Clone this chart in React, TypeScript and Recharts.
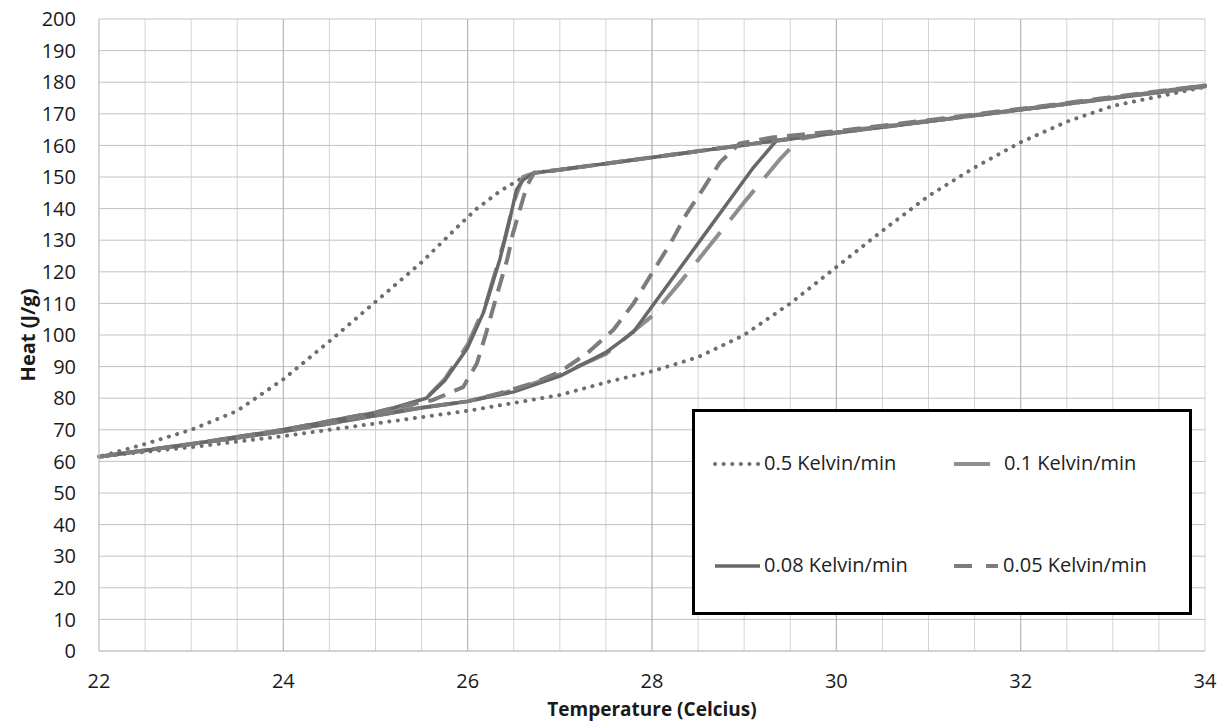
import React from "react";
import {
  LineChart,
  Line,
  XAxis,
  YAxis,
  CartesianGrid,
  Legend,
  ReferenceLine,
} from "recharts";

// temperatures (Celcius) and heat (J/g), each series runs the heating branch then back along the cooling branch
const tempsRate05 = [22, 23, 24, 25, 25.5, 26, 26.5, 27, 27.5, 28, 28.5, 29, 29.5, 30, 30.5, 31, 31.5, 32, 32.5, 33, 33.5, 34,
  33, 32, 31, 30, 29.4, 28, 27, 26.7, 26.55, 26.35, 26.1, 25.9, 25.5, 25, 24.5, 24, 23.5, 23, 22.5, 22];
const heatRate05 = [61.5, 64.5, 68, 72, 74, 76, 78.5, 81, 85, 88.5, 93, 100, 110, 121.5, 133, 144, 153, 161, 167.5, 172.5, 175.5, 178.5,
  175, 171.3, 167.6, 164, 161.7, 156.2, 152.3, 151.3, 149, 145.5, 140, 134.5, 123, 110.5, 98, 86, 76, 70, 65.5, 61.5];

const tempsRate01 = [22, 23, 24, 25, 25.5, 26, 26.5, 27, 27.5, 28, 28.3, 28.7, 29, 29.4, 29.6, 30, 31, 32, 33, 34,
  33, 32, 31, 30, 29.4, 28, 27, 26.75, 26.6, 26.5, 26.4, 26.2, 26, 25.75, 25.55, 25.3, 25, 24, 23, 22];
const heatRate01 = [61.5, 65.5, 69.5, 74.5, 77, 79, 82.5, 87.5, 94, 106, 116.5, 131, 142, 156, 162, 164.2, 167.8, 171.4, 175, 178.6,
  175, 171.3, 167.6, 164, 161.7, 156.2, 152.3, 151.5, 150, 142, 130, 110, 97, 86, 80, 76.5, 75.5, 70, 65.5, 61.5];

const tempsRate008 = [22, 23, 24, 25, 25.5, 26, 26.5, 27, 27.5, 27.8, 28, 28.5, 28.9, 29.1, 29.35, 30, 31, 32, 33, 34,
  33, 32, 31, 30, 29.35, 28, 27, 26.72, 26.6, 26.53, 26.46, 26.35, 26.17, 26, 25.75, 25.55, 25.2, 25, 24, 23, 22];
const heatRate008 = [61.5, 65.5, 69.5, 74.5, 77, 79, 82, 87, 94.5, 101, 109, 129, 145, 153, 161.5, 164, 167.6, 171.3, 175, 178.8,
  175, 171.3, 167.6, 164, 161.5, 156.2, 152.3, 151.3, 149, 146, 137, 124, 107, 96, 85.5, 80, 77, 75.5, 70, 65.5, 61.5];

const tempsRate005 = [22, 23, 24, 25, 25.5, 26, 26.35, 26.7, 27, 27.3, 27.58, 27.8, 28, 28.2, 28.38, 28.56, 28.74, 28.95, 29.3, 30, 31, 32, 33, 34,
  33, 32, 31, 30, 29.4, 28, 27, 26.72, 26.64, 26.49, 26.43, 26.32, 26.2, 26.1, 25.95, 25.62, 25.2, 25, 24, 23, 22];
const heatRate005 = [61.5, 65.5, 69.5, 74.5, 77, 79, 81.6, 84.7, 88.3, 94.3, 101.6, 110, 119.6, 129, 138.6, 146.5, 154.7, 160.6, 162.5, 164.5, 168, 171.6, 175.3, 179,
  175, 171.3, 167.6, 164, 161.7, 156.2, 152.3, 151.3, 147, 132, 124, 113, 100.6, 91, 83.5, 79.4, 77, 75.5, 70, 65.5, 61.5];

const xTicks = [22, 22.5, 23, 23.5, 24, 24.5, 25, 25.5, 26, 26.5, 27, 27.5, 28, 28.5, 29, 29.5, 30, 30.5, 31, 31.5, 32, 32.5, 33, 33.5, 34];
const majorX = [24, 26, 28, 30, 32];
const yTicks = [0, 10, 20, 30, 40, 50, 60, 70, 80, 90, 100, 110, 120, 130, 140, 150, 160, 170, 180, 190, 200];

const zip = (ts: number[], hs: number[]) => ts.map((t, i) => ({ t, h: hs[i] }));

const series = [
  { name: "0.5 Kelvin/min", data: zip(tempsRate05, heatRate05), color: "#6e6e6e", width: 4, dash: "0.1 8.5" },
  { name: "0.1 Kelvin/min", data: zip(tempsRate01, heatRate01), color: "#8e8e8e", width: 4, dash: "38 8 0.1 8" },
  { name: "0.08 Kelvin/min", data: zip(tempsRate008, heatRate008), color: "#686868", width: 3.5, dash: undefined },
  { name: "0.05 Kelvin/min", data: zip(tempsRate005, heatRate005), color: "#7c7c7c", width: 4, dash: "18 10" },
];

const FONT = "'Open Sans', sans-serif";

const legendSlots = [
  { left: 20, top: 52, sample: 44, text: 69, dash: "0.1 8.5" },
  { left: 259, top: 52, sample: 36, text: 309, dash: undefined },
  { left: 20, top: 154, sample: 45, text: 69, dash: undefined },
  { left: 259, top: 154, sample: 44, text: 308, dash: "18 14" },
];

const LegendBox = () => (
  <div
    style={{
      width: 500,
      height: 206,
      boxSizing: "border-box",
      border: "3px solid #000",
      background: "#fff",
      position: "relative",
      fontFamily: FONT,
      fontSize: 20,
      color: "#222",
    }}
  >
    {series.map((s, i) => {
      const slot = legendSlots[i];
      return (
        <div key={s.name}>
          <svg
            width={slot.sample + 4}
            height={10}
            style={{ position: "absolute", left: slot.left - 2, top: slot.top - 5 }}
          >
            <line
              x1={2}
              x2={slot.sample + 2}
              y1={5}
              y2={5}
              stroke={s.color}
              strokeWidth={s.width}
              strokeDasharray={slot.dash}
              strokeLinecap={s.dash && s.dash.startsWith("0.1") ? "round" : "butt"}
            />
          </svg>
          <span
            style={{
              position: "absolute",
              left: slot.text,
              top: slot.top - 15,
              lineHeight: "28px",
              whiteSpace: "nowrap",
            }}
          >
            {s.name}
          </span>
        </div>
      );
    })}
  </div>
);

export default function App() {
  return (
    <div style={{ position: "absolute", left: 0, top: 0, background: "#fff" }}>
      <LineChart
        width={1224}
        height={725}
        margin={{ top: 19, right: 19, left: 0, bottom: 0 }}
        style={{ fontFamily: FONT }}
      >
        <CartesianGrid stroke="#d3d3d3" horizontal={false} />
        <CartesianGrid stroke="#c2c2c2" vertical={false} />
        {majorX.map((x) => (
          <ReferenceLine key={x} x={x} stroke="#b3b3b3" strokeWidth={1} />
        ))}
        <XAxis
          type="number"
          dataKey="t"
          domain={[22, 34]}
          ticks={xTicks}
          interval={0}
          tickFormatter={(v: number) => (v % 2 === 0 ? String(v) : "")}
          tickLine={false}
          tickSize={0}
          tickMargin={23}
          height={74}
          axisLine={{ stroke: "#c4c4c4" }}
          tick={{ fill: "#1a1a1a", fontSize: 20 }}
          allowDuplicatedCategory={false}
          label={{
            value: "Temperature (Celcius)",
            position: "insideBottom",
            offset: 9,
            fill: "#1a1a1a",
            fontSize: 19,
            fontWeight: 700,
          }}
        />
        <YAxis
          type="number"
          domain={[0, 200]}
          ticks={yTicks}
          interval={0}
          width={99}
          tickLine={false}
          tickSize={0}
          tickMargin={23}
          axisLine={{ stroke: "#c4c4c4" }}
          tick={{ fill: "#1a1a1a", fontSize: 20 }}
          label={{
            value: "Heat (J/g)",
            angle: -90,
            position: "center",
            dx: -22,
            fill: "#1a1a1a",
            fontSize: 20,
            fontWeight: 700,
          }}
        />
        <Legend
          layout="horizontal"
          verticalAlign="middle"
          align="center"
          wrapperStyle={{ left: 692, top: 409, width: 500, height: 206 }}
          content={() => <LegendBox />}
        />
        {series.map((s) => (
          <Line
            key={s.name}
            data={s.data}
            dataKey="h"
            name={s.name}
            type="linear"
            stroke={s.color}
            strokeWidth={s.width}
            strokeDasharray={s.dash}
            strokeLinecap={s.dash && s.dash.startsWith("0.1") ? "round" : "butt"}
            strokeLinejoin="round"
            dot={false}
            activeDot={false}
            isAnimationActive={false}
          />
        ))}
      </LineChart>
    </div>
  );
}
